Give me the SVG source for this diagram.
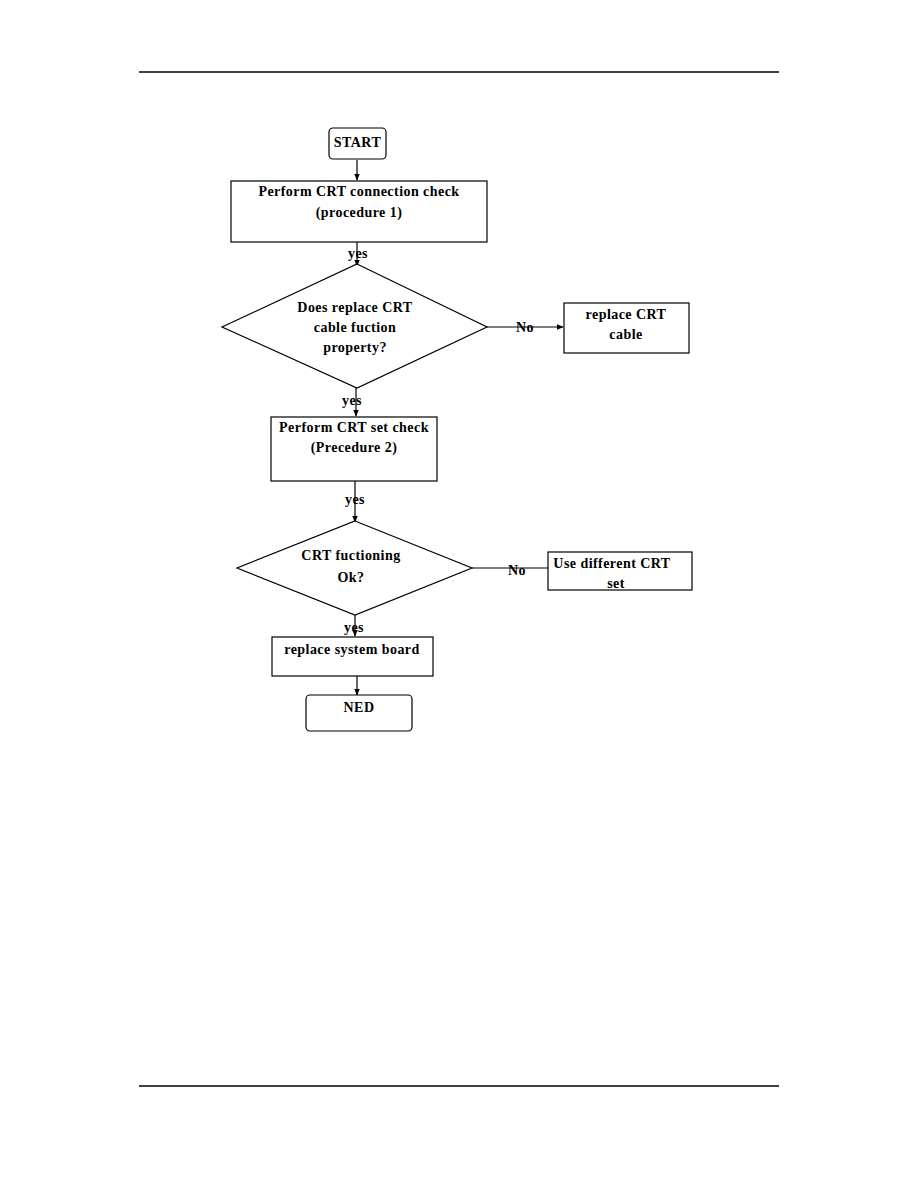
<svg xmlns="http://www.w3.org/2000/svg" width="918" height="1188" viewBox="0 0 918 1188">
<defs>
<style>
.s{fill:#fff;stroke:#000;stroke-width:1.2}
.t{font-family:"Liberation Serif","Times New Roman",serif;font-weight:bold;font-size:14px;letter-spacing:0.45px;fill:#000;text-anchor:middle}
.l{stroke:#000;stroke-width:1.2;fill:none}
.r{stroke:#000;stroke-width:1.6}
</style>
<marker id="a" viewBox="0 0 10 10" refX="9" refY="5" markerWidth="7" markerHeight="7" orient="auto" markerUnits="userSpaceOnUse"><path d="M0,1 L10,5 L0,9 z" fill="#000"/></marker>
</defs>
<rect width="918" height="1188" fill="#fff"/>
<line class="r" x1="139" y1="72" x2="779" y2="72"/>
<line class="r" x1="139" y1="1086" x2="779" y2="1086"/>
<g id="connectors">
<line class="l" x1="357" y1="160" x2="357" y2="180" marker-end="url(#a)"/>
<line class="l" x1="357" y1="242" x2="357" y2="266" marker-end="url(#a)"/>
<line class="l" x1="487" y1="327" x2="563" y2="327" marker-end="url(#a)"/>
<line class="l" x1="356" y1="388" x2="356" y2="416" marker-end="url(#a)"/>
<line class="l" x1="355" y1="481" x2="355" y2="522" marker-end="url(#a)"/>
<line class="l" x1="472" y1="568" x2="548" y2="568"/>
<line class="l" x1="355" y1="615" x2="355" y2="636" marker-end="url(#a)"/>
<line class="l" x1="357" y1="676" x2="357" y2="695" marker-end="url(#a)"/>
<text class="t" x="358" y="258">yes</text>
<text class="t" x="525" y="332">No</text>
<text class="t" x="352" y="405">yes</text>
<text class="t" x="355" y="504">yes</text>
<text class="t" x="517" y="575">No</text>
<text class="t" x="354" y="632">yes</text>
</g>
<g id="start">
<rect class="s" x="329" y="128" width="57" height="31" rx="4"/>
<text class="t" x="357.5" y="147">START</text>
</g>
<g id="proc1">
<rect class="s" x="231" y="181" width="256" height="61"/>
<text class="t" x="359" y="196">Perform CRT connection check</text>
<text class="t" x="359" y="217">(procedure 1)</text>
</g>
<g id="dec1">
<polygon class="s" points="357,264 487,327 357,388 222,327"/>
<text class="t" x="355" y="312">Does replace CRT</text>
<text class="t" x="355" y="332">cable fuction</text>
<text class="t" x="355" y="352">property?</text>
</g>
<g id="replacecable">
<rect class="s" x="564" y="303" width="125" height="50"/>
<text class="t" x="626" y="319">replace CRT</text>
<text class="t" x="626" y="339">cable</text>
</g>
<g id="proc2">
<rect class="s" x="271" y="417" width="166" height="64"/>
<text class="t" x="354" y="432">Perform CRT set check</text>
<text class="t" x="354" y="452">(Precedure 2)</text>
</g>
<g id="dec2">
<polygon class="s" points="355,521 472,568 355,615 237,568"/>
<text class="t" x="351" y="560">CRT fuctioning</text>
<text class="t" x="351" y="582">Ok?</text>
</g>
<g id="usediff">
<rect class="s" x="548" y="552" width="144" height="38"/>
<text class="t" x="612" y="568">Use different CRT</text>
<text class="t" x="616" y="588">set</text>
</g>
<g id="replaceboard">
<rect class="s" x="272" y="637" width="161" height="39"/>
<text class="t" x="352" y="654">replace system board</text>
</g>
<g id="end">
<rect class="s" x="306" y="695" width="106" height="36" rx="4"/>
<text class="t" x="359" y="712">NED</text>
</g>
</svg>
